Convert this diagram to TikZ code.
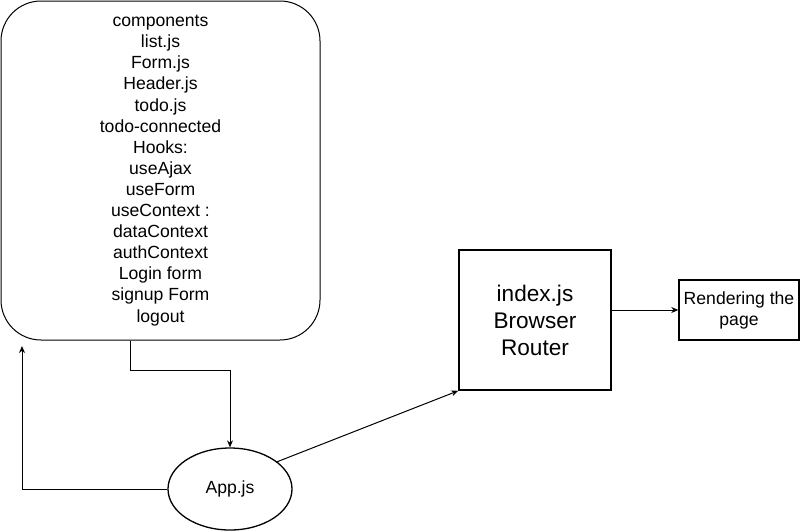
\documentclass[tikz,border=0pt]{standalone}
\usepackage{fontspec}
\setmainfont{Liberation Sans}
\usetikzlibrary{arrows.meta, positioning, shapes.geometric}

\begin{document}
\begin{tikzpicture}[
    x=1pt, y=-1pt,
    >={Stealth[length=7pt, width=6pt]},
    folder/.style={draw, line width=1pt, rounded corners=40pt, minimum width=319pt,
      minimum height=339pt, align=center, font=\fontsize{17.6}{21.1}\selectfont},
    sketchbox/.style={draw, line width=1.6pt, align=center, inner sep=0pt},
    app/.style={ellipse, draw, line width=1.3pt, minimum width=124pt, minimum height=82pt,
      inner sep=0pt, font=\fontsize{17.6}{21.1}\selectfont},
    link/.style={->, line width=1pt},
  ]
  \useasboundingbox (0,0) rectangle (801,531);
  \node[folder] (comp) at (160.5,170.5) {components\\list.js\\Form.js\\Header.js\\todo.js\\
    todo-connected\\Hooks:\\useAjax\\useForm\\useContext :\\dataContext\\authContext\\
    Login form\\signup Form\\logout};
  \node[app] (app) at (230,489) {App.js};
  \node[sketchbox, minimum width=152pt, minimum height=140pt,
    font=\fontsize{22.6}{27}\selectfont] (router) at (535,320)
    {index.js\\Browser\\Router};
  \node[sketchbox, line width=1.4pt, minimum width=120pt, minimum height=60pt,
    font=\fontsize{17.6}{21.1}\selectfont] (render) at (739,310)
    {Rendering the\\page};
  \coordinate (back) at (22,346);
  % connectors
  \draw[link] ([xshift=-30pt]comp.south) -- ++(0,30) -| (app.north);
  \draw[link] (app.west) -| (back);
  \draw[link] (app.30) -- (router.south west);
  \draw[link] (router.east |- render.west) -- (render.west);
\end{tikzpicture}
\end{document}
